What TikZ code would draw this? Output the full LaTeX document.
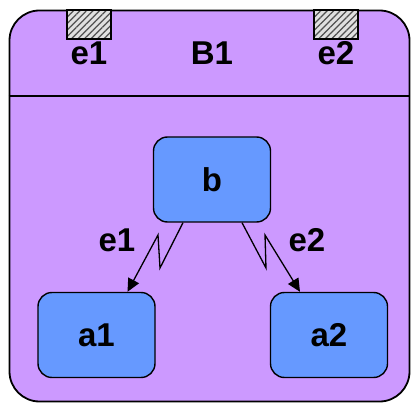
\documentclass[tikz,border=0pt]{standalone}
\usepackage{fontspec}
\setsansfont{Liberation Sans}
\usepackage{tikz}
\usetikzlibrary{arrows.meta,patterns.meta}
\definecolor{lilac}{HTML}{CC99FF}
\definecolor{stateblue}{HTML}{6699FF}
\definecolor{portgray}{HTML}{E0E0E0}
\definecolor{hatch}{HTML}{505050}
\tikzset{
  font=\sffamily\bfseries\fontsize{33}{38}\selectfont,
  container/.style={
    draw=black, line width=1.8pt, rounded corners=30pt, fill=lilac,
    inner sep=0pt
  },
  state/.style={
    draw=black, line width=1.4pt, rounded corners=14pt, fill=stateblue,
    inner sep=0pt, minimum width=117pt, minimum height=85pt
  },
  port/.style={
    draw=black, line width=1.4pt, inner sep=0pt,
    minimum width=44pt, minimum height=29pt,
    preaction={fill=portgray},
    pattern={Lines[angle=45,distance=4.6pt,line width=1.3pt]}, pattern color=hatch
  },
  lbl/.style={inner sep=0pt},
  trans/.style={-{Triangle[length=13pt,width=12pt]}, draw=black, line width=1.3pt}
}

\begin{document}
\begin{tikzpicture}[x=1pt, y=-1pt]
  \useasboundingbox (0,0) rectangle (412,403);

  % block B1 with its header
  \node[container, minimum width=400pt, minimum height=391pt] (blk) at (209.5,206) {};
  \coordinate (sep) at (0,96);
  \draw[line width=1.3pt] (blk.west |- sep) -- (blk.east |- sep);

  % event ports on the top edge
  \node[port] (p1) at (89,24.5) {};
  \node[port] (p2) at (336,24.5) {};
  \node[lbl] (pe1) at (89,53) {e1};
  \node[lbl] (title) at (212,53) {B1};
  \node[lbl] (pe2) at (336,53) {e2};

  % states
  \node[state] (b) at (212,179.5) {b};
  \node[state] (a1) at (96.5,335) {a1};
  \node[state] (a2) at (329,335) {a2};

  % event transitions
  \draw[trans] ([xshift=-29pt]b.south) -- (160,268) -- (158,235) -- ([xshift=31pt]a1.north);
  \draw[trans] ([xshift=30pt]b.south) -- (266,268) -- (265,235) -- ([xshift=-29pt]a2.north);
  \node[lbl] (te1) at (117,240) {e1};
  \node[lbl] (te2) at (307,240) {e2};
\end{tikzpicture}
\end{document}
